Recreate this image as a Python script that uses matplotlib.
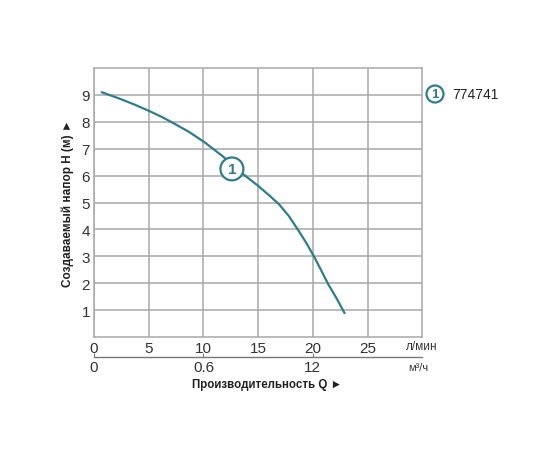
import matplotlib
matplotlib.use('Agg')
import matplotlib.pyplot as plt
from matplotlib.patches import Ellipse

plt.rcParams['font.family'] = ['Liberation Sans', 'DejaVu Sans']

# flow (l/min) vs head (m)
q_lmin = [0.7, 2.4, 3.7, 5.0, 6.2, 7.3, 8.7, 10.1, 11.7, 13.8, 15.0, 16.0,
          16.9, 17.8, 18.7, 19.4, 20.1, 20.8, 21.4, 22.2, 22.9]
head_m = [9.1, 8.85, 8.64, 8.41, 8.18, 7.94, 7.62, 7.24, 6.74, 6.0, 5.62, 5.27,
          4.94, 4.5, 3.95, 3.5, 3.0, 2.45, 1.97, 1.42, 0.89]

x_ticks = [0, 5, 10, 15, 20, 25]
y_ticks = [1, 2, 3, 4, 5, 6, 7, 8, 9]
m3_ticks = [0, 10, 20]
m3_labels = ['0', '0.6', '12']
model = '774741'

teal = '#2f7d8b'
grid = '#a8a8a8'
txt = '#333333'

fig = plt.figure(figsize=(5.6, 4.6), dpi=100)
ax = fig.add_axes([0.168, 0.265, 0.586, 0.585])
ax.plot(q_lmin, head_m, color=teal, lw=1.6, zorder=3,
        solid_joinstyle='round', solid_capstyle='round')
ax.set_xlim(0, 30)
ax.set_ylim(0, 10)
ax.set_xticks(x_ticks)
ax.set_yticks(y_ticks)
ax.grid(True, color=grid, lw=1.1)
ax.set_axisbelow(True)
for s in ax.spines.values():
    s.set_color(grid)
    s.set_linewidth(1.1)
ax.tick_params(length=0, labelsize=11, labelcolor=txt, pad=3)


# circled number on the curve
def circled(axh, x, y, w, h, fs):
    axh.add_patch(Ellipse((x, y), w, h, facecolor='white', edgecolor=teal,
                          lw=1.6, zorder=4))
    axh.text(x, y, '1', color=teal, fontsize=fs, fontweight='bold',
             ha='center', va='center', zorder=5)


circled(ax, 12.6, 6.25, 2.1, 0.85, 11)

ax.text(-2.45, 5.0, 'Создаваемый напор H (м) ►', rotation=90, fontsize=8.5,
        fontweight='bold', color='#222222', ha='center', va='center')

# units on the right of the x axes
ax.text(28.5, -0.33, 'л/мин', fontsize=8.5, color=txt, ha='left', va='center')

# second scale (m3/h)
ax2 = fig.add_axes([0.168, 0.2217, 0.586, 0.0001])
ax2.set_xlim(0, 30)
ax2.set_yticks([])
for k in ['top', 'left', 'right']:
    ax2.spines[k].set_visible(False)
ax2.spines['bottom'].set_color('#777777')
ax2.spines['bottom'].set_linewidth(1.0)
ax2.set_xticks(m3_ticks)
ax2.set_xticklabels(m3_labels)
ax2.tick_params(axis='x', direction='in', length=3, color='#777777',
                labelsize=11, labelcolor=txt, pad=2)
ax2.patch.set_visible(False)

fig.text(0.729, 0.2, 'м³/ч', fontsize=8, color=txt, ha='left', va='center')
fig.text(0.477, 0.163, 'Производительность Q ►', fontsize=8.3,
         fontweight='bold', color='#222222', ha='center', va='center')

# legend on the right
fig.patches.append(Ellipse((435 / 560, 1 - 95 / 460), 17 / 560, 17 / 460,
                           transform=fig.transFigure, facecolor='white',
                           edgecolor=teal, lw=1.6))
fig.text(435 / 560, 1 - 95 / 460, '1', color=teal, fontsize=9.5,
         fontweight='bold', ha='center', va='center')
fig.text(452 / 560, 1 - 95 / 460, model, color='#222222', fontsize=10,
         ha='left', va='center')

fig.savefig('out.png', dpi=100)
